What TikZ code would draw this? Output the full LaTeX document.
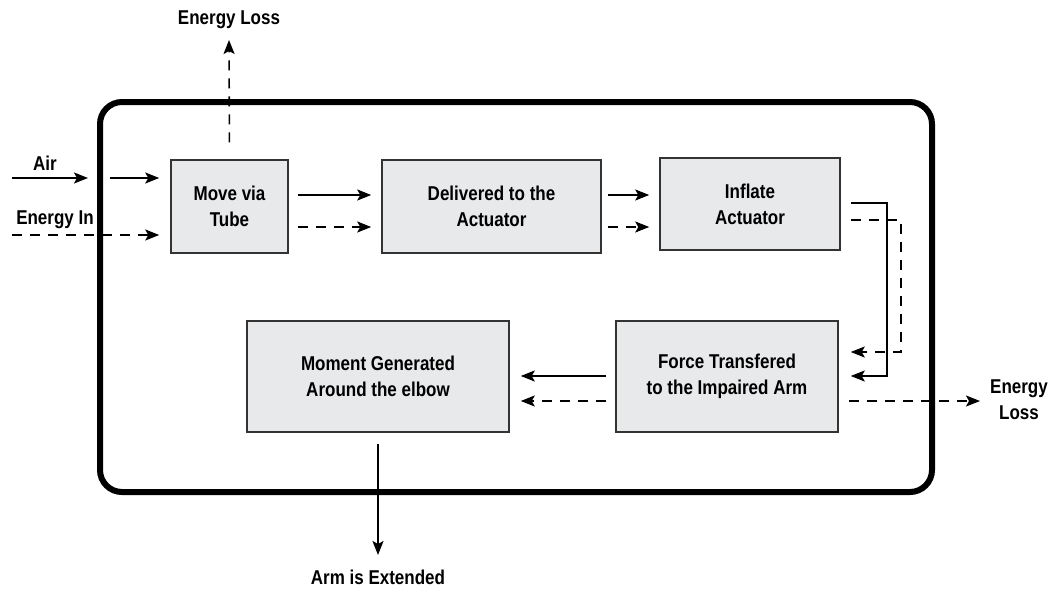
\documentclass[tikz,border=0pt]{standalone}
\usepackage{fontspec}
\newfontfamily\lab{Liberation Sans}[FakeStretch=0.85]
\usetikzlibrary{arrows.meta}
\definecolor{boxgray}{HTML}{E8E9EB}
\begin{document}
\begin{tikzpicture}[x=1pt,y=-1pt,
  txt/.style={font=\lab\bfseries\fontsize{20}{26}\selectfont, align=center, inner sep=0pt},
  box/.style={txt, draw=black!80, line width=1.5pt, fill=boxgray},
  flow/.style={line width=1.6pt, -{Stealth[length=14pt,width=11pt,inset=3pt]}},
  dflow/.style={flow, dash pattern=on 10pt off 8pt}]
\useasboundingbox (0,0) rectangle (1056,590);
\node[draw, line width=6pt, rounded corners=22pt, minimum width=832pt, minimum height=390pt, inner sep=0pt] (frame) at (516,297) {};

\node[box, minimum width=117pt, minimum height=93pt] (mv) at (229.5,206.5) {Move via\\Tube};
\node[box, minimum width=219pt, minimum height=93pt] (del) at (491.5,206.5) {Delivered to the\\Actuator};
\node[box, minimum width=180pt, minimum height=92pt] (inf) at (750,204) {Inflate\\Actuator};
\node[box, minimum width=222pt, minimum height=111pt] (frc) at (727,376.5) {Force Transfered\\to the Impaired Arm};
\node[box, minimum width=262pt, minimum height=111pt] (mom) at (378,376.5) {Moment Generated\\Around the elbow};

\node[txt] (lair) at (45,163) {Air};
\node[txt] (lein) at (55,220) {Energy In};
\node[txt] (lel1) at (229,20) {Energy Loss};
\node[txt] (lel2) at (1019,400) {Energy\\Loss};
\node[txt] (larm) at (378,577) {Arm is Extended};

\coordinate (y178) at (0,178);
\coordinate (y235) at (0,235);
\coordinate (y195) at (0,195);
\coordinate (y227) at (0,227);
\coordinate (y203) at (0,203);
\coordinate (y220) at (0,220);
\coordinate (y352) at (0,352);
\coordinate (y376) at (0,376);
\coordinate (y401) at (0,401);
\coordinate (airA) at (12,178);
\coordinate (airB) at (88,178);
\coordinate (airC) at (110,178);
\coordinate (einA) at (12,235);
\coordinate (railA) at (887,290);
\coordinate (railB) at (901,290);
\coordinate (lossR) at (980,401);
\coordinate (lossT) at (229,40);
\coordinate (armE) at (378,555);

\draw[flow] (airA) -- (airB);
\draw[flow, shorten >=11pt] (airC) -- (mv.west |- y178);
\draw[dflow, shorten >=11pt] (einA) -- (mv.west |- y235);

\draw[flow, shorten <=9pt, shorten >=10pt] (mv.east |- y195) -- (del.west |- y195);
\draw[dflow, shorten <=9pt, shorten >=10pt] (mv.east |- y227) -- (del.west |- y227);

\draw[flow, shorten <=6pt, shorten >=10pt] (del.east |- y195) -- (inf.west |- y195);
\draw[dflow, shorten <=6pt, shorten >=10pt] (del.east |- y227) -- (inf.west |- y227);

\draw[flow, shorten <=10pt, shorten >=12pt] (inf.east |- y203) -| (railA) |- (frc.east |- y376);
\draw[dflow, shorten <=10pt, shorten >=12pt] (inf.east |- y220) -| (railB) |- (frc.east |- y352);

\draw[flow, shorten <=9pt, shorten >=11pt] (frc.west |- y376) -- (mom.east |- y376);
\draw[dflow, shorten <=9pt, shorten >=11pt] (frc.west |- y401) -- (mom.east |- y401);

\draw[dflow, shorten <=10pt] (frc.east |- y401) -- (lossR);
\draw[dflow, shorten <=17pt] (mv.north) -- (lossT);
\draw[flow, shorten <=11pt] (mom.south) -- (armE);
\end{tikzpicture}
\end{document}
